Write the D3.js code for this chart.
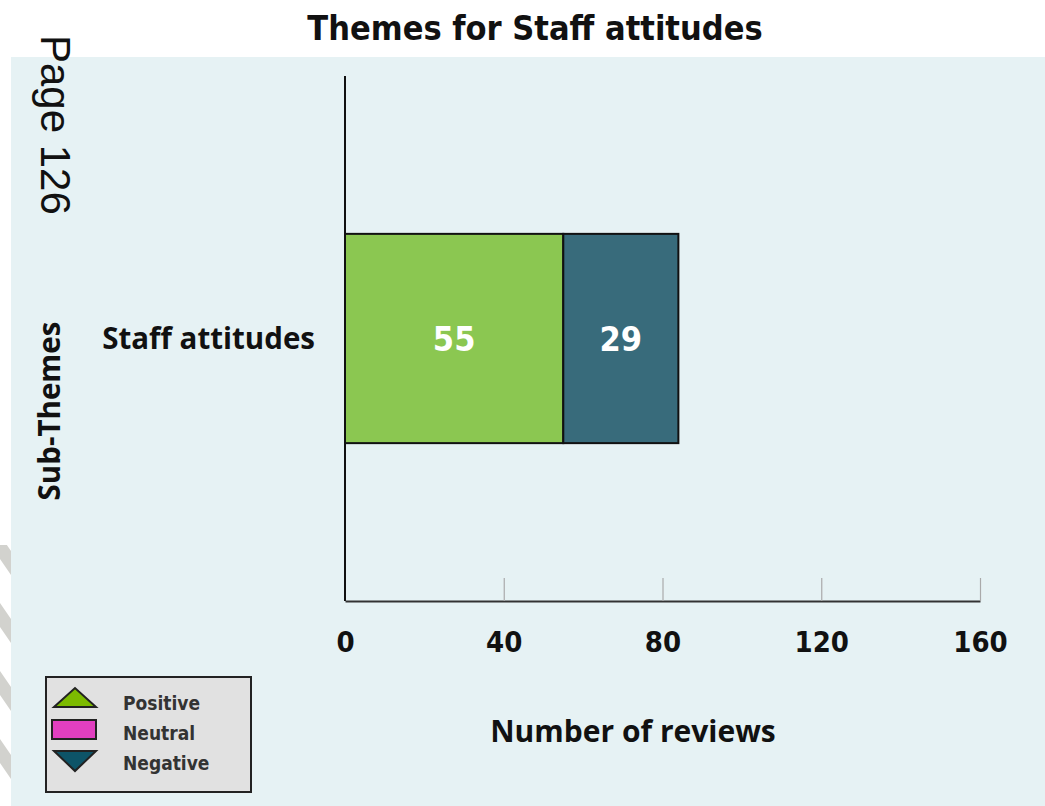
<!DOCTYPE html>
<html>
<head>
<meta charset="utf-8">
<script src="https://cdn.jsdelivr.net/npm/d3@7/dist/d3.min.js"></script>
<style>
  html, body { margin: 0; padding: 0; background: #ffffff; }
  svg { display: block; }
</style>
</head>
<body>
<svg id="chart" width="1045" height="806"></svg>
<script>
// Data
const categories = ["Staff attitudes"];
const positiveValues = [55];
const neutralValues = [0];
const negativeValues = [29];
const tickValues = [0, 40, 80, 120, 160];
const legendLabels = ["Positive", "Neutral", "Negative"];

const colors = { positive: "#8bc751", neutral: "#e23fc0", negative: "#386b7b" };
const legendColors = { Positive: "#7cbb00", Neutral: "#e23fc0", Negative: "#0d5468" };

const svg = d3.select("#chart");
const W = 1045, H = 806;

// Background panel and striped margin
svg.append("rect").attr("x", 0).attr("y", 0).attr("width", W).attr("height", H).attr("fill", "#ffffff");
svg.append("rect").attr("x", 11).attr("y", 57).attr("width", W - 11).attr("height", H - 57).attr("fill", "#e6f2f4");

const defs = svg.append("defs");
const clip = defs.append("clipPath").attr("id", "stripClip");
clip.append("rect").attr("x", 0).attr("y", 545).attr("width", 11).attr("height", H - 545);
const stripes = svg.append("g").attr("clip-path", "url(#stripClip)");
for (let y0 = 535; y0 < H + 60; y0 += 68) {
  stripes.append("path")
    .attr("d", `M0,${y0} L11,${y0 + 16} L11,${y0 + 40} L0,${y0 + 24} Z`)
    .attr("fill", "#d2d2ce");
}

const font = "'DejaVu Sans', sans-serif";

// Title
svg.append("text")
  .attr("x", 535).attr("y", 40)
  .attr("text-anchor", "middle")
  .attr("font-family", font).attr("font-weight", "bold")
  .attr("font-size", 34).attr("font-stretch", "condensed")
  .attr("fill", "#111")
  .text("Themes for Staff attitudes");

// Page marker
svg.append("text")
  .attr("transform", "translate(41,35) rotate(90)")
  .attr("font-family", "'Liberation Sans', Arial, sans-serif")
  .attr("font-size", 42)
  .attr("fill", "#111")
  .text("Page 126");

// Scales
const margin = { left: 345, right: 980, top: 76, bottom: 601 };
const x = d3.scaleLinear().domain([0, 160]).range([margin.left, margin.right]);
const y = d3.scaleBand().domain(categories).range([margin.top, margin.bottom]).paddingInner(0.43).paddingOuter(0.43);

// Stacked data
const stackData = categories.map((c, i) => ({
  category: c, positive: positiveValues[i], neutral: neutralValues[i], negative: negativeValues[i]
}));
const keys = ["positive", "neutral", "negative"];
const series = d3.stack().keys(keys)(stackData);

// Bars
const barG = svg.append("g");
series.forEach(s => {
  s.forEach(d => {
    const w = x(d[1]) - x(d[0]);
    if (w <= 0) return;
    barG.append("rect")
      .attr("x", x(d[0])).attr("y", y(d.data.category))
      .attr("width", w).attr("height", y.bandwidth())
      .attr("fill", colors[s.key])
      .attr("stroke", "#111").attr("stroke-width", 2);
    barG.append("text")
      .attr("x", (x(d[0]) + x(d[1])) / 2)
      .attr("y", y(d.data.category) + y.bandwidth() / 2)
      .attr("dy", "0.36em")
      .attr("text-anchor", "middle")
      .attr("font-family", font).attr("font-weight", "bold")
      .attr("font-size", 34).attr("font-stretch", "condensed")
      .attr("fill", "#ffffff")
      .text(d.data[s.key]);
  });
});

// Y axis line
svg.append("line")
  .attr("x1", margin.left).attr("x2", margin.left)
  .attr("y1", margin.top).attr("y2", margin.bottom)
  .attr("stroke", "#111").attr("stroke-width", 2);

// X axis
const xAxis = d3.axisBottom(x).tickValues(tickValues).tickSize(-23).tickSizeOuter(0)
  .tickPadding(0).tickFormat(d3.format("d"));
const xg = svg.append("g").attr("transform", `translate(0,${margin.bottom})`).call(xAxis);
xg.select(".domain").attr("stroke", "#333").attr("stroke-width", 2);
xg.selectAll(".tick line").attr("stroke", "#aaa").attr("stroke-width", 1.2)
  .filter(d => d === 0).remove();
xg.selectAll(".tick text")
  .attr("y", 51).attr("dy", 0)
  .attr("font-family", font).attr("font-weight", "bold")
  .attr("font-size", 29).attr("font-stretch", "condensed")
  .attr("fill", "#111");

// Category label
svg.append("text")
  .attr("x", 315).attr("y", y(categories[0]) + y.bandwidth() / 2)
  .attr("dy", "0.36em")
  .attr("text-anchor", "end")
  .attr("font-family", "'Open Sans', sans-serif").attr("font-weight", "bold")
  .attr("font-size", 29.5)
  .attr("fill", "#111")
  .text(categories[0]);

// Axis titles
svg.append("text")
  .attr("transform", "translate(60,411) rotate(-90)")
  .attr("text-anchor", "middle")
  .attr("font-family", "'Open Sans', sans-serif").attr("font-weight", "bold")
  .attr("font-size", 29.5)
  .attr("fill", "#111")
  .text("Sub-Themes");

svg.append("text")
  .attr("x", 633).attr("y", 742)
  .attr("text-anchor", "middle")
  .attr("font-family", "'Open Sans', sans-serif").attr("font-weight", "bold")
  .attr("font-size", 30)
  .attr("fill", "#111")
  .text("Number of reviews");

// Legend
const lg = svg.append("g");
lg.append("rect").attr("x", 46).attr("y", 677).attr("width", 205).attr("height", 115)
  .attr("fill", "#e1e1e1").attr("stroke", "#222").attr("stroke-width", 2);
const rowY = [704, 734, 764];
legendLabels.forEach((lab, i) => {
  const cy = rowY[i] - 6;
  if (lab === "Positive") {
    lg.append("path").attr("d", `M54,${cy + 9} L75,${cy - 10} L96,${cy + 9} Z`)
      .attr("fill", legendColors[lab]).attr("stroke", "#222").attr("stroke-width", 2);
  } else if (lab === "Neutral") {
    lg.append("rect").attr("x", 52).attr("y", cy - 8).attr("width", 44).attr("height", 19)
      .attr("fill", legendColors[lab]).attr("stroke", "#222").attr("stroke-width", 2);
  } else {
    lg.append("path").attr("d", `M54,${cy - 7} L75,${cy + 13} L96,${cy - 7} Z`)
      .attr("fill", legendColors[lab]).attr("stroke", "#222").attr("stroke-width", 2);
  }
  lg.append("text").attr("x", 123).attr("y", rowY[i] + 6)
    .attr("font-family", font).attr("font-weight", "bold")
    .attr("font-size", 19).attr("font-stretch", "condensed")
    .attr("fill", "#333")
    .text(lab);
});
</script>
</body>
</html>
